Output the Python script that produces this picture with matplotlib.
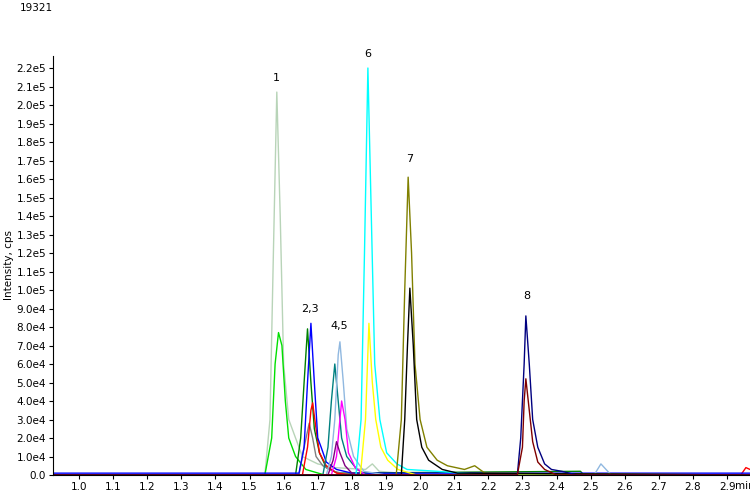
import matplotlib
matplotlib.use("Agg")
import matplotlib.pyplot as plt

# intensity in units of 1e4 cps; times in min
T0, T1 = 0.924, 2.967
traces = {
    "#b8d4b8": [(T0,0),(1.545,0),(1.56,3),(1.57,12),(1.58,20.7),(1.59,14),(1.6,6),(1.615,3),(1.635,2),(1.655,1),(1.7,0.6),(1.75,0.4),(1.84,0.3),(1.86,0.6),(1.88,0.2),(2.0,0),(T1,0)],
    "#00e000": [(T0,0),(1.545,0),(1.565,2),(1.575,6),(1.585,7.7),(1.595,7),(1.605,4),(1.615,2),(1.635,1),(1.665,0.3),(1.72,0),(T1,0)],
    "#008000": [(T0,0),(1.635,0),(1.65,2),(1.66,5),(1.67,7.9),(1.68,5),(1.69,2.5),(1.705,1.2),(1.725,0.4),(1.76,0.1),(2.47,0.2),(2.48,0),(T1,0)],
    "#808080": [(T0,0),(1.645,0),(1.66,1.5),(1.675,2.8),(1.685,2),(1.695,1),(1.715,0.5),(1.745,0.2),(1.8,0),(T1,0)],
    "#ff0000": [(T0,0),(1.655,0),(1.67,1.5),(1.68,3.5),(1.685,3.9),(1.695,2.5),(1.705,1.2),(1.725,0.5),(1.755,0.1),(1.8,0),(2.94,0),(2.955,0.4),(T1,0.3)],
    "#0000ff": [(T0,0.1),(1.645,0.1),(1.66,1.5),(1.67,5),(1.68,8.2),(1.69,5),(1.7,2),(1.71,1.5),(1.725,0.7),(1.755,0.3),(1.8,0.1),(T1,0.1)],
    "#008080": [(T0,0),(1.715,0),(1.73,1.5),(1.74,4),(1.75,6.0),(1.76,4),(1.77,2),(1.785,1),(1.815,0.3),(1.845,0),(T1,0)],
    "#90b8e0": [(T0,0),(1.725,0),(1.74,1),(1.75,3),(1.76,6.5),(1.765,7.2),(1.775,5),(1.785,2.5),(1.805,1),(1.835,0.2),(1.9,0),(2.51,0),(2.53,0.6),(2.56,0),(T1,0)],
    "#ff00ff": [(T0,0),(1.74,0),(1.755,1),(1.765,3),(1.77,4.0),(1.78,3),(1.79,1.2),(1.81,0.4),(1.84,0),(T1,0)],
    "#800080": [(T0,0),(1.73,0),(1.745,0.8),(1.755,1.8),(1.765,1.2),(1.78,0.5),(1.8,0.1),(1.83,0),(T1,0)],
    "#00ffff": [(T0,0),(1.812,0),(1.827,3),(1.837,12),(1.847,22.0),(1.857,14),(1.867,6),(1.882,3),(1.902,1.2),(1.932,0.6),(1.962,0.3),(2.05,0.2),(2.2,0),(T1,0)],
    "#ffff00": [(T0,0),(1.825,0),(1.84,3),(1.85,8.2),(1.86,5),(1.87,3),(1.885,1.5),(1.905,0.8),(1.935,0.3),(1.99,0),(T1,0)],
    "#808000": [(T0,0),(1.93,0),(1.945,3),(1.955,10),(1.965,16.1),(1.975,12),(1.985,6),(2.0,3),(2.02,1.5),(2.05,0.8),(2.08,0.5),(2.13,0.3),(2.16,0.5),(2.19,0.1),(T1,0)],
    "#000000": [(T0,0),(1.945,0),(1.955,3),(1.963,7),(1.97,10.1),(1.98,7),(1.99,3),(2.005,1.5),(2.025,0.8),(2.065,0.3),(2.11,0.1),(T1,0)],
    "#000080": [(T0,0),(2.285,0),(2.295,2),(2.305,6),(2.31,8.6),(2.32,6),(2.33,3),(2.345,1.5),(2.365,0.6),(2.385,0.3),(2.415,0.2),(2.46,0),(T1,0)],
    "#800000": [(T0,0),(2.285,0),(2.3,1.5),(2.305,4),(2.31,5.2),(2.32,3.5),(2.33,1.8),(2.345,0.7),(2.365,0.3),(2.4,0),(T1,0)],
}
labels = ["1", "2,3", "4,5", "6", "7", "8"]
label_t = [1.58, 1.678, 1.762, 1.847, 1.97, 2.312]
label_y = [21.2, 8.7, 7.8, 22.5, 16.8, 9.4]

fig = plt.figure(figsize=(7.5, 4.91), dpi=100)
ax = fig.add_axes([53/750, 16/491, 1-53/750, (475-56)/491])
for c, pts in traces.items():
    ax.plot([p[0] for p in pts], [p[1]*1e4 for p in pts], color=c, lw=1)
for l, t, y in zip(labels, label_t, label_y):
    ax.text(t, y*1e4, l, ha="center", va="bottom", fontsize=8)
ax.set_xlim(T0, T1)
ax.set_ylim(0, 2.265e5)
xt = [round(1.0 + 0.1*i, 1) for i in range(20)]
ax.set_xticks(xt)
ax.set_xticklabels([f"{v:.1f}" for v in xt], fontsize=7.5)
yt = [i*1e4 for i in range(23)]
ax.set_yticks(yt)
ax.set_yticklabels(["0.0"] + [f"{i}.0e4" for i in range(1, 10)] + [f"{i/10:.1f}e5" for i in range(10, 23)], fontsize=7.5)
ax.tick_params(length=3, pad=2)
for s in ["top", "right"]:
    ax.spines[s].set_visible(False)
ax.set_ylabel("Intensity, cps", fontsize=7.5, labelpad=2)
fig.text(735/750, 1-486/491, "min", fontsize=7.5, ha="left", va="center")
fig.text(20/750, 1-8/491, "19321", fontsize=7.5, va="center")
fig.savefig("out.png", dpi=100)
